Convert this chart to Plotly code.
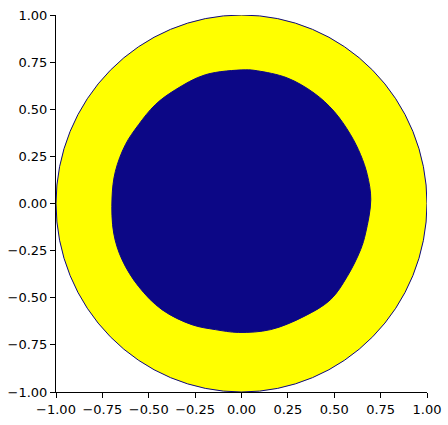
import plotly.graph_objects as go

# Outer disc (unit circle) and inner blob boundary
disc_x = [-1.0, 1.0]
disc_y = [-1.0, 1.0]

blob_x = [0.697, 0.678, 0.642, 0.588, 0.499, 0.391, 0.247, 0.085, 0.020,
          -0.195, -0.357, -0.465, -0.555, -0.626, -0.680, -0.698,
          -0.689, -0.644, -0.555, -0.429, -0.267, -0.141, -0.016,
          0.157, 0.337, 0.480, 0.570, 0.642, 0.669]
blob_y = [0.020, 0.153, 0.259, 0.365, 0.489, 0.586, 0.666, 0.704, 0.709,
          0.683, 0.603, 0.524, 0.418, 0.312, 0.170, 0.029,
          -0.157, -0.298, -0.440, -0.563, -0.643, -0.669, -0.684,
          -0.669, -0.599, -0.510, -0.387, -0.245, -0.157]

tick_vals = [-1.0, -0.75, -0.5, -0.25, 0.0, 0.25, 0.5, 0.75, 1.0]

navy = '#0c0786'
yellow = '#ffff00'

fig = go.Figure()

# inner blob
fig.add_trace(go.Scatter(
    x=blob_x + blob_x[:1],
    y=blob_y + blob_y[:1],
    mode='lines',
    fill='toself',
    fillcolor=navy,
    line=dict(color=navy, width=1, shape='spline', smoothing=1.0),
    hoverinfo='skip',
    showlegend=False,
))

# outer disc drawn below the blob
fig.add_shape(
    type='circle', xref='x', yref='y',
    x0=disc_x[0], y0=disc_y[0], x1=disc_x[1], y1=disc_y[1],
    fillcolor=yellow, line=dict(color=navy, width=1),
    layer='below',
)

axis_style = dict(
    range=[-1, 1],
    tickvals=tick_vals,
    tickformat='.2f',
    showgrid=False,
    zeroline=False,
    showline=True,
    linecolor='black',
    linewidth=1,
    ticks='outside',
    ticklen=5,
    tickwidth=1,
    tickcolor='black',
    mirror=False,
    automargin=False,
    tickfont=dict(family='DejaVu Sans', size=13, color='black'),
)

fig.update_xaxes(**axis_style)
fig.update_yaxes(**axis_style)

fig.update_layout(
    width=448, height=425,
    margin=dict(l=56, r=21, t=15, b=33),
    plot_bgcolor='white',
    paper_bgcolor='white',
    showlegend=False,
)

# drop the default page margin so the figure sits at the window corner
fig.write_html('out.html', config={'displayModeBar': False},
               post_script="document.body.style.margin='0';")
